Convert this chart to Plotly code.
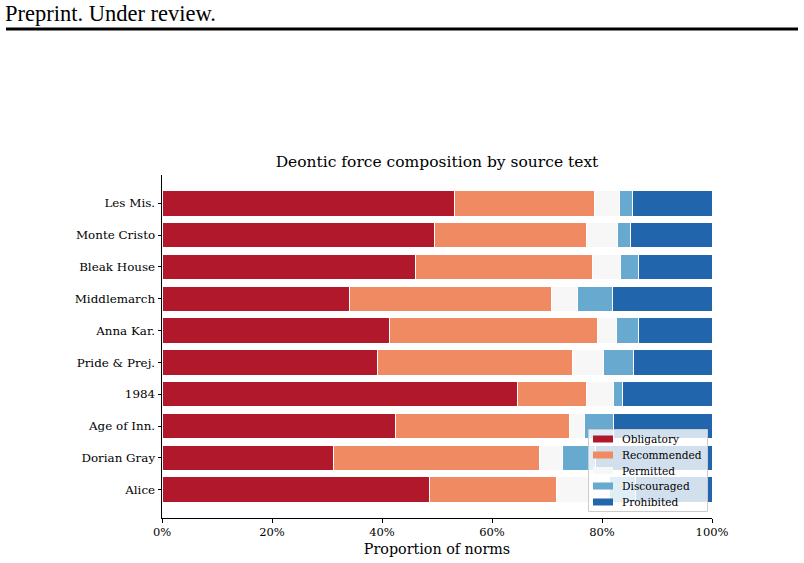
import plotly.graph_objects as go

# Data (bottom to top)
texts = ["Alice", "Dorian Gray", "Age of Inn.", "1984", "Pride & Prej.",
         "Anna Kar.", "Middlemarch", "Bleak House", "Monte Cristo", "Les Mis."]
obligatory  = [48.7, 31.2, 42.4, 64.7, 39.1, 41.4, 34.1, 46.1, 49.6, 53.1]
recommended = [23.1, 37.4, 31.7, 12.5, 35.6, 37.8, 36.8, 32.1, 27.6, 25.5]
permitted   = [9.6, 4.3, 2.8, 4.9, 5.6, 3.4, 4.7, 5.1, 5.7, 4.6]
discouraged = [4.6, 6.0, 5.2, 1.7, 5.5, 4.1, 6.3, 3.3, 2.3, 2.4]
prohibited  = [14.0, 21.1, 17.9, 16.2, 14.2, 13.3, 18.1, 13.4, 14.8, 14.4]

series = [
    ("Obligatory", obligatory, "#b2182b"),
    ("Recommended", recommended, "#ef8a62"),
    ("Permitted", permitted, "#f7f7f7"),
    ("Discouraged", discouraged, "#67a9cf"),
    ("Prohibited", prohibited, "#2166ac"),
]
x_ticks = [0, 20, 40, 60, 80, 100]

FONT = "DejaVu Serif"
W, H = 804, 563
L, R, T, B = 162, 712, 175, 518


def px(xp):
    return (xp - L) / (R - L)


def py(yp):
    return (B - yp) / (B - T)


fig = go.Figure()
ypos = list(range(len(texts)))
for name, vals, col in series:
    fig.add_trace(go.Bar(
        y=ypos, x=vals, name=name, orientation="h", width=0.8,
        marker=dict(color=col, line=dict(color="white", width=1)),
        showlegend=False,
    ))

fig.update_layout(
    barmode="stack",
    width=W, height=H,
    margin=dict(l=L, r=W - R, t=T, b=H - B, pad=0, autoexpand=False),
    paper_bgcolor="white", plot_bgcolor="white",
    font=dict(family=FONT, color="black", size=11),
    title=dict(text="Deontic force composition by source text",
               x=(L + R) / 2 / W, xanchor="center",
               y=1 - 162 / H, yanchor="middle", yref="container",
               font=dict(family=FONT, size=15.5, color="black")),
    xaxis=dict(range=[0, 100], tickvals=x_ticks,
               ticktext=[f"{v}%" for v in x_ticks],
               showline=True, linecolor="black", linewidth=1,
               ticks="outside", ticklen=3.5, tickcolor="black",
               showgrid=False, zeroline=False, automargin=False,
               tickfont=dict(family=FONT, size=11.5),
               title=dict(text="Proportion of norms", standoff=5,
                          font=dict(family=FONT, size=14.3))),
    yaxis=dict(range=[-0.89, 9.89], tickvals=ypos, ticktext=texts,
               showline=True, linecolor="black", linewidth=1,
               ticks="outside", ticklen=3.5, tickcolor="black",
               showgrid=False, zeroline=False, automargin=False,
               tickfont=dict(family=FONT, size=11.9)),
    showlegend=False,
)

# Manual legend (matplotlib style)
fig.add_shape(type="rect", xref="paper", yref="paper",
              x0=px(588.5), x1=px(707.5), y0=py(511.5), y1=py(429.5),
              fillcolor="rgba(255,255,255,0.8)",
              line=dict(color="#cccccc", width=1), layer="above")
leg_y = [439, 455, 470.5, 486, 502]
for (name, _, col), yc in zip(series, leg_y):
    fig.add_shape(type="rect", xref="paper", yref="paper",
                  x0=px(593), x1=px(613), y0=py(yc + 3.5), y1=py(yc - 3.5),
                  fillcolor=col, line=dict(width=0), layer="above")
    fig.add_annotation(text=name, xref="paper", yref="paper",
                       x=px(621), y=py(yc), xanchor="left", yanchor="middle",
                       showarrow=False, borderpad=0,
                       font=dict(family=FONT, size=10.6, color="black"))

# Header
fig.add_annotation(text="Preprint. Under review.", xref="paper", yref="paper",
                   x=px(4), y=py(13), xanchor="left", yanchor="middle",
                   showarrow=False, borderpad=0,
                   font=dict(family="Liberation Serif", size=22.5, color="black"))
fig.add_shape(type="line", xref="paper", yref="paper",
              x0=px(6), x1=px(798), y0=py(29), y1=py(29),
              line=dict(color="black", width=3))

fig.write_html("out.html")
